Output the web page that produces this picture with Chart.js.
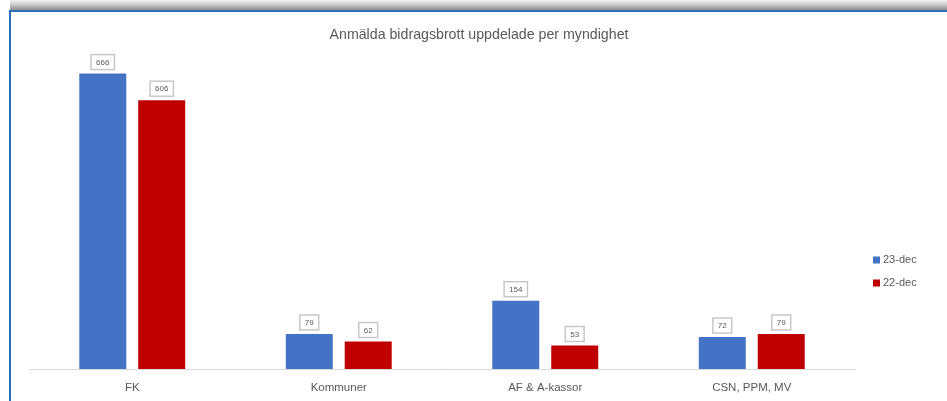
<!DOCTYPE html>
<html>
<head>
<meta charset="utf-8">
<script src="https://cdn.jsdelivr.net/npm/chart.js@4"></script>
<style>
  body { margin: 0; background: #fff; width: 947px; height: 401px; overflow: hidden; position: relative; }
  #shadow { position: absolute; left: 10px; top: 0; width: 937px; height: 10px; background: linear-gradient(#f4f4f4, #c8c8c8 50%, #8e8e8e); }
  #frame { position: absolute; left: 9px; top: 10px; width: 938px; height: 391px; border-top: 2px solid #2e6fba; border-left: 2px solid #2e6fba; box-sizing: border-box; }
  #wrap { position: absolute; left: 0; top: 0; width: 936px; height: 389px; }
</style>
</head>
<body>
<div id="shadow"></div>
<div id="frame"><div id="wrap"><canvas id="myChart"></canvas></div></div>
<script>
const labels = ['FK', 'Kommuner', 'AF & A-kassor', 'CSN, PPM, MV'];
const seriesNames = ['23-dec', '22-dec'];
const dec23 = [666, 79, 154, 72];
const dec22 = [606, 62, 53, 79];
const colors = ['#4472c4', '#c00000'];

const textGray = '#595959';

// little boxed value labels above each bar
const valueBoxes = {
  id: 'valueBoxes',
  afterDatasetsDraw(chart) {
    const ctx = chart.ctx;
    ctx.save();
    ctx.font = '8px "Liberation Sans"';
    ctx.textAlign = 'center';
    ctx.textBaseline = 'middle';
    chart.data.datasets.forEach((ds, i) => {
      chart.getDatasetMeta(i).data.forEach((bar, j) => {
        const txt = String(ds.data[j]);
        const w = ctx.measureText(txt).width + 10;
        const h = 15;
        const x = bar.x - w / 2;
        const y = bar.y - 4 - h;
        ctx.fillStyle = '#fff';
        ctx.fillRect(x, y, w, h);
        ctx.strokeStyle = '#c8c8c8';
        ctx.lineWidth = 1.5;
        ctx.strokeRect(x, y, w, h);
        ctx.fillStyle = textGray;
        ctx.fillText(txt, bar.x, y + h / 2 + 0.5);
      });
    });
    ctx.restore();
  }
};

// legend on the right, Excel style
const sideLegend = {
  id: 'sideLegend',
  afterDraw(chart) {
    const ctx = chart.ctx;
    const x0 = chart.chartArea.right + 18;
    ctx.save();
    ctx.font = '11px "Liberation Sans"';
    ctx.textBaseline = 'middle';
    chart.data.datasets.forEach((ds, i) => {
      const cy = 248 + i * 23;
      ctx.fillStyle = ds.backgroundColor;
      ctx.fillRect(x0, cy - 3.5, 7, 7);
      ctx.fillStyle = textGray;
      ctx.fillText(ds.label, x0 + 10, cy);
    });
    ctx.restore();
  }
};

const data = {
  labels: labels,
  datasets: [
    { label: seriesNames[0], data: dec23, backgroundColor: colors[0] },
    { label: seriesNames[1], data: dec22, backgroundColor: colors[1] }
  ]
};

const config = {
  type: 'bar',
  data: data,
  plugins: [valueBoxes, sideLegend],
  options: {
    responsive: true,
    maintainAspectRatio: false,
    animation: false,
    categoryPercentage: 0.571,
    barPercentage: 0.797,
    layout: { padding: { top: 0, left: 0, right: 0, bottom: 7 } },
    plugins: {
      legend: { display: false },
      tooltip: { enabled: false },
      title: {
        display: true,
        text: 'Anmälda bidragsbrott uppdelade per myndighet',
        color: textGray,
        font: { family: 'Liberation Sans', size: 14.2, weight: 'normal' },
        padding: { top: 14.5, bottom: 15 }
      }
    },
    scales: {
      x: {
        grid: { display: false, drawTicks: false },
        border: { display: true, color: '#d9d9d9', width: 1 },
        ticks: { color: textGray, font: { family: 'Liberation Sans', size: 11.5 }, padding: 12 },
        afterFit(scale) { scale.height = 25; }
      },
      y: {
        min: 0,
        max: 700,
        ticks: { display: false },
        grid: { display: false },
        border: { display: false },
        afterFit(scale) { scale.width = 18; }
      },
      yRight: {
        position: 'right',
        ticks: { display: false },
        grid: { display: false },
        border: { display: false },
        afterFit(scale) { scale.width = 92; }
      }
    }
  }
};

new Chart(document.getElementById('myChart').getContext('2d'), config);
</script>
</body>
</html>
